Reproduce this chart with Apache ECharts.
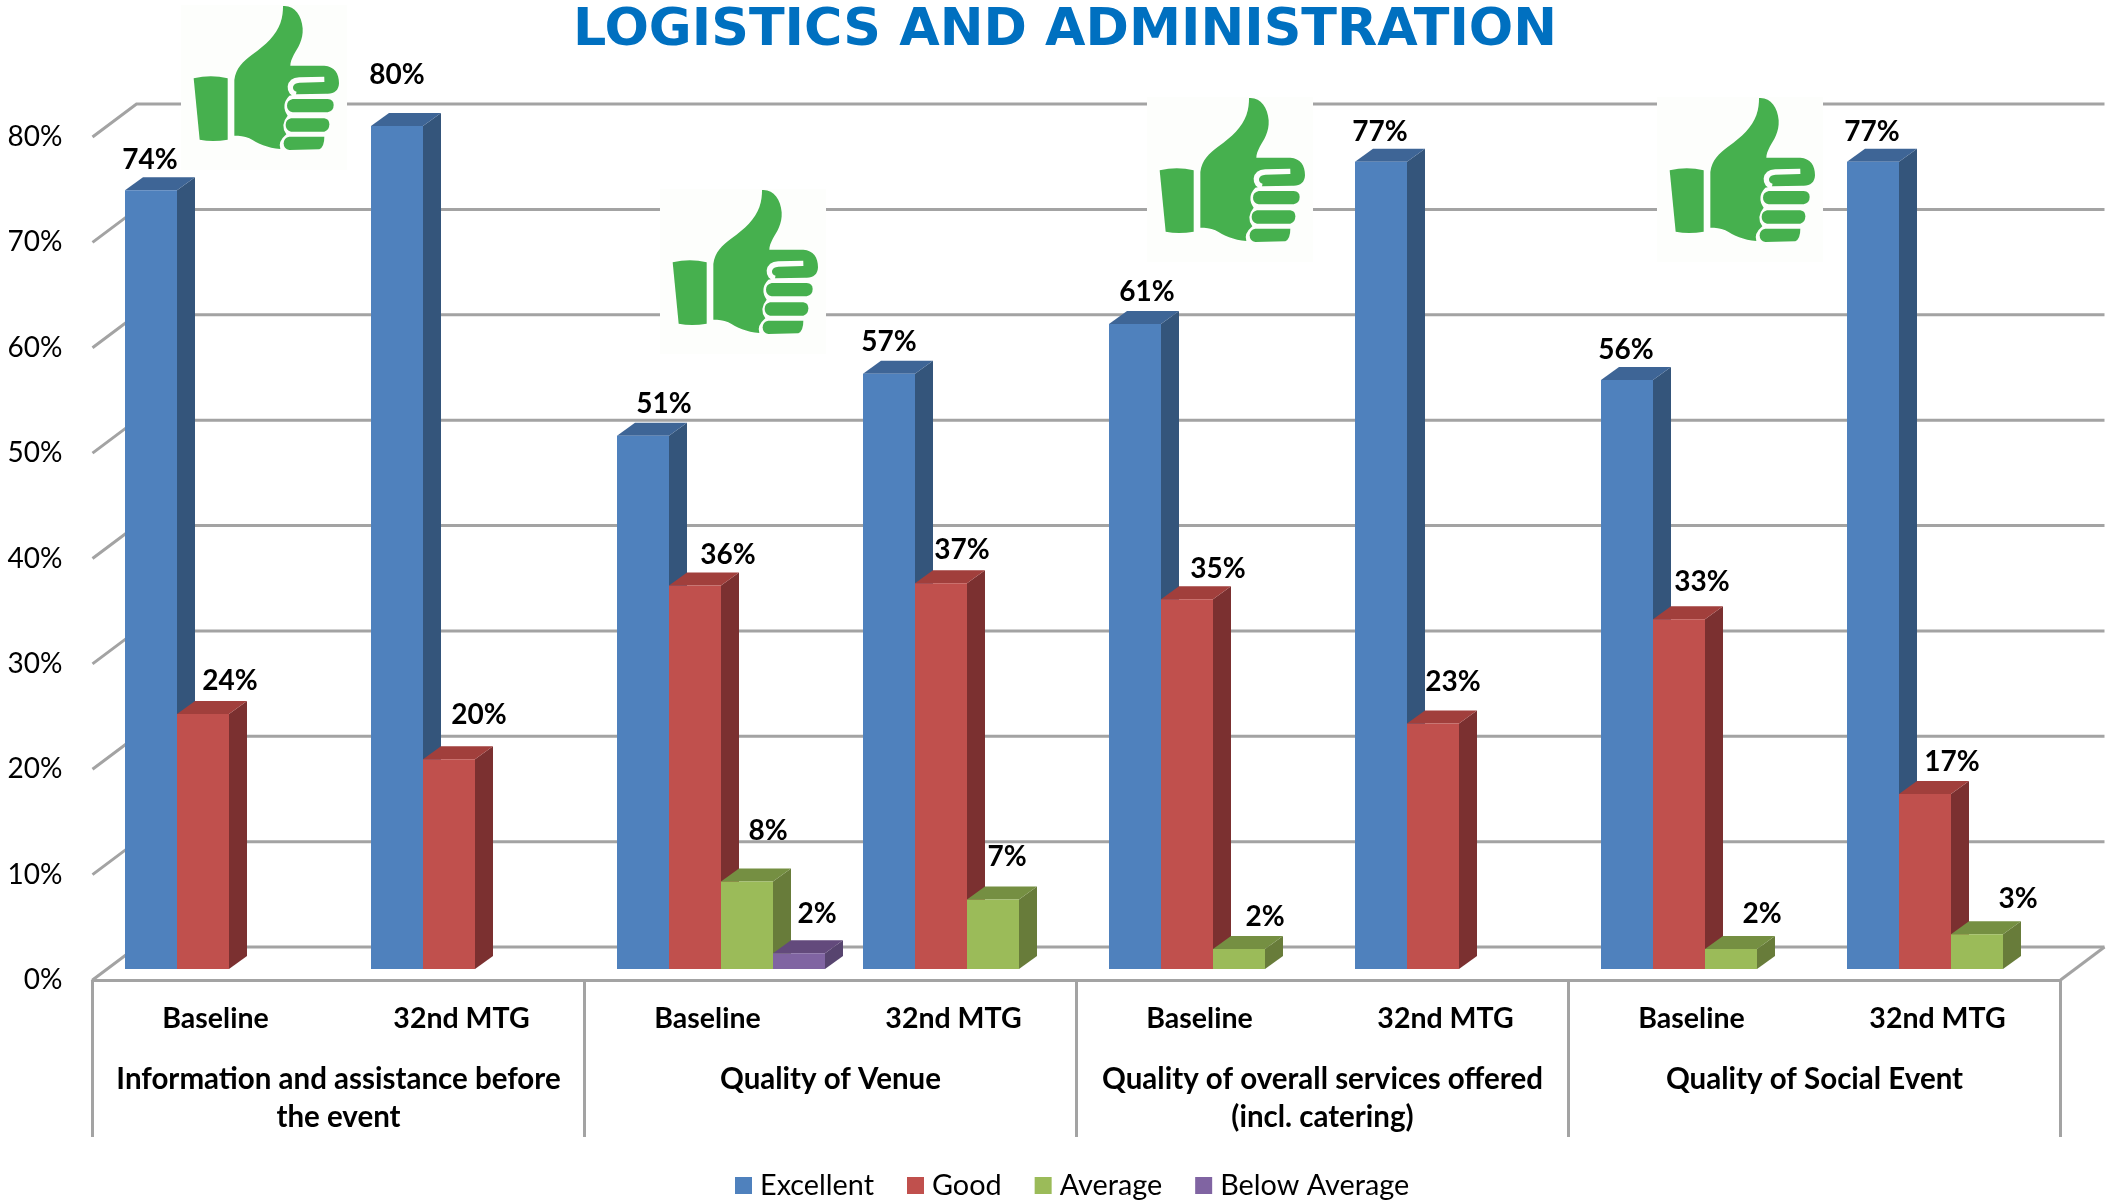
<!DOCTYPE html>
<html>
<head>
<meta charset="utf-8">
<title>Logistics and Administration</title>
<script src="https://cdn.jsdelivr.net/npm/echarts@6/dist/echarts.min.js"></script>
<style>
  html, body { margin: 0; padding: 0; background: #fff; }
  #chart { width: 2122px; height: 1201px; }
</style>
</head>
<body>
<div id="chart"></div>
<script>
const titleText = 'LOGISTICS AND ADMINISTRATION'
const sessions = ['Baseline', '32nd MTG', 'Baseline', '32nd MTG', 'Baseline', '32nd MTG', 'Baseline', '32nd MTG']
const topics = [
  'Information and assistance before\nthe event',
  'Quality of Venue',
  'Quality of overall services offered\n(incl. catering)',
  'Quality of Social Event'
]
const yTicks = [0, 10, 20, 30, 40, 50, 60, 70, 80]
const seriesNames = ['Excellent', 'Good', 'Average', 'Below Average']

// the chart only labels them rounded
const excellent = [73.9, 80.0, 50.6, 56.5, 61.2, 76.6, 55.9, 76.6]
const good = [24.2, 19.9, 36.4, 36.6, 35.1, 23.3, 33.2, 16.6]
const average = [null, null, 8.3, 6.6, 1.9, null, 1.9, 3.3]
const belowAverage = [null, null, 1.5, null, null, null, null, null]

// hand placed data labels in the original, px away from the top of the front face
const excellentNudge = [[-1, -30.5], [0, -51.5], [21, -31.5], [0, -31.5], [12, -32.5], [-1, -29.5], [-1, -29.5], [-1, -29.5]]
const goodNudge = [[27, -33.5], [30, -44.5], [33, -30.5], [21, -33.5], [31, -30.5], [20, -41.5], [23, -37.5], [27, -32.5]]
const averageNudge = [null, null, [21, -50.5], [14, -42.5], [26, -32.5], null, [31, -35.5], [41, -35.5]]
const belowNudge = [null, null, [18, -39.5], null, null, null, null, null]

const faceColors = [
  { front: '#4f81bd', top: '#3e6596', side: '#34557b' },
  { front: '#c0504d', top: '#a13f3c', side: '#7b3030' },
  { front: '#9bbb59', top: '#758f42', side: '#687c3a' },
  { front: '#8064a2', top: '#634a7c', side: '#57446f' }
]

const gridColor = '#a3a3a3'
const textFont = 'Lato'

// fake 3d: back wall offset, floor offset of the bars, depth of a bar
const wallDx = 44
const wallDy = 33
const floorDx = 13.5
const floorDy = 11
const barDx = 18
const barDy = 13
const barShare = 52 / 246

function renderWall (params, api) {
  const rect = params.coordSys
  const p = api.coord([0, api.value(1)])
  const x0 = rect.x
  const x1 = rect.x + rect.width
  const style = { stroke: gridColor, lineWidth: 3, fill: null }
  const children = [{
    type: 'polyline',
    shape: { points: [[x0, p[1]], [x0 + wallDx, p[1] - wallDy], [x1 + wallDx, p[1] - wallDy]] },
    style
  }]
  if (api.value(1) === 0) {
    children.push({
      type: 'line',
      shape: { x1, y1: p[1], x2: x1 + wallDx, y2: p[1] - wallDy },
      style
    })
  }
  return { type: 'group', children }
}

function makeBarRenderer (seriesIndex, nudges) {
  const colors = faceColors[seriesIndex]
  return function (params, api) {
    const value = api.value(1)
    if (isNaN(value)) return null
    const band = api.size([1, 0])[0]
    const w = band * barShare
    const center = api.coord([api.value(0), 0])
    const left = center[0] - 2 * w + floorDx + seriesIndex * w
    const base = center[1] - floorDy
    const top = api.coord([api.value(0), value])[1] - floorDy
    const right = left + w
    const nudge = nudges[params.dataIndex]
    return {
      type: 'group',
      children: [
        {
          type: 'polygon',
          shape: { points: [[right, top], [right + barDx, top - barDy], [right + barDx, base - barDy], [right, base]] },
          style: { fill: colors.side }
        },
        {
          type: 'polygon',
          shape: { points: [[left, top], [left + barDx, top - barDy], [right + barDx, top - barDy], [right, top]] },
          style: { fill: colors.top }
        },
        {
          type: 'rect',
          shape: { x: left, y: top, width: w, height: base - top },
          style: { fill: colors.front }
        },
        {
          type: 'text',
          z2: 20,
          style: {
            x: left + w / 2 + nudge[0],
            y: top + nudge[1],
            text: Math.round(value) + '%',
            fill: '#000',
            font: 'bold 28px ' + textFont,
            textAlign: 'center',
            textVerticalAlign: 'middle'
          }
        }
      ]
    }
  }
}

function barSeries (index, values, nudges) {
  return {
    name: seriesNames[index],
    type: 'custom',
    z: 3 + index,
    silent: true,
    renderItem: makeBarRenderer(index, nudges),
    itemStyle: { color: faceColors[index].front },
    encode: { x: 0, y: 1 },
    data: values.map((v, i) => [i, v])
  }
}

// thumb icon as an inline svg, the original is a pasted picture too
const thumbSvg = '<svg xmlns="http://www.w3.org/2000/svg" width="166" height="165" viewBox="0 0 498 495">' +
  '<rect width="498" height="495" fill="#fdfefc"/>' +
  '<g fill="#46b04e">' +
  '<path d="M38 220 Q90 208 140 220 L140 404 Q95 412 56 404 Z"/>' +
  '<path d="M160 392 L160 225 C165 190 185 170 215 148 C255 120 285 90 298 55 C305 35 306 18 306 3 C340 0 362 30 365 70 C367 105 350 130 338 150 C332 162 328 172 328 182 L430 182 C460 184 474 205 474 235 C473 258 458 268 435 266 L345 268 L325 272 Q298 300 320 332 Q296 360 316 388 Q290 410 298 432 C260 430 230 415 205 400 C190 393 175 392 160 392 Z"/>' +
  '<path d="M335 282 L440 282 Q458 284 458 300 Q458 318 440 322 L335 322 Q318 318 318 302 Q318 286 335 282 Z"/>' +
  '<path d="M330 340 L430 340 Q445 342 445 358 Q445 376 430 380 L330 380 Q314 376 314 360 Q314 344 330 340 Z"/>' +
  '<path d="M325 395 L430 395 Q430 425 415 433 L325 435 Q308 432 308 415 Q308 398 325 395 Z"/>' +
  '</g>' +
  '<path d="M430 223 L355 225 C340 226 330 232 328 245 C327 258 335 266 345 268" fill="none" stroke="#fdfefc" stroke-width="16"/>' +
  '</svg>'
const thumbImage = 'data:image/svg+xml;charset=utf-8,' + encodeURIComponent(thumbSvg)

function thumbIcon (x, y) {
  return {
    type: 'image',
    x,
    y,
    z: 10,
    silent: true,
    style: { image: thumbImage, x: 0, y: 0, width: 166, height: 165 }
  }
}

const option = {
  animation: false,
  backgroundColor: '#fff',
  title: {
    text: titleText,
    left: 1060,
    top: 0,
    textAlign: 'center',
    textStyle: {
      color: '#0070c0',
      fontFamily: 'DejaVu Sans',
      fontWeight: 'bold',
      fontSize: 52.3
    }
  },
  legend: {
    left: 730,
    top: 1166,
    itemWidth: 17,
    itemHeight: 17,
    itemGap: 33,
    icon: 'rect',
    selectedMode: false,
    textStyle: { color: '#000', fontFamily: textFont, fontSize: 28.8, padding: [0, 0, 0, 3] },
    data: seriesNames
  },
  grid: { left: 92.5, top: 137, width: 1968, height: 843 },
  xAxis: [
    {
      type: 'category',
      data: sessions,
      position: 'bottom',
      axisLine: { show: true, lineStyle: { color: gridColor, width: 3 } },
      axisTick: { show: false },
      axisLabel: {
        interval: 0,
        margin: 24,
        color: '#000',
        fontFamily: textFont,
        fontWeight: 'bold',
        fontSize: 28.5
      }
    },
    {
      type: 'category',
      data: topics,
      position: 'bottom',
      axisLine: { show: false },
      axisTick: { show: true, length: 157, lineStyle: { color: gridColor, width: 3 } },
      axisLabel: {
        interval: 0,
        margin: 80,
        color: '#000',
        fontFamily: textFont,
        fontWeight: 'bold',
        fontSize: 29.5,
        lineHeight: 38
      }
    }
  ],
  yAxis: {
    type: 'value',
    min: 0,
    max: 80,
    interval: 10,
    axisLine: { show: false },
    axisTick: { show: false },
    splitLine: { show: false },
    axisLabel: {
      margin: 30,
      formatter: '{value}%',
      color: '#000',
      fontFamily: textFont,
      fontSize: 28,
      padding: [0, 0, 8, 0]
    }
  },
  series: [
    {
      name: 'wall',
      type: 'custom',
      z: 1,
      silent: true,
      renderItem: renderWall,
      encode: { x: 0, y: 1 },
      data: yTicks.map(t => [0, t])
    },
    barSeries(0, excellent, excellentNudge),
    barSeries(1, good, goodNudge),
    barSeries(2, average, averageNudge),
    barSeries(3, belowAverage, belowNudge)
  ],
  graphic: [
    thumbIcon(181, 5),
    thumbIcon(660, 189),
    thumbIcon(1147, 97),
    thumbIcon(1657, 97)
  ]
}

const chart = echarts.init(document.getElementById('chart'))
chart.setOption(option)
</script>
</body>
</html>
